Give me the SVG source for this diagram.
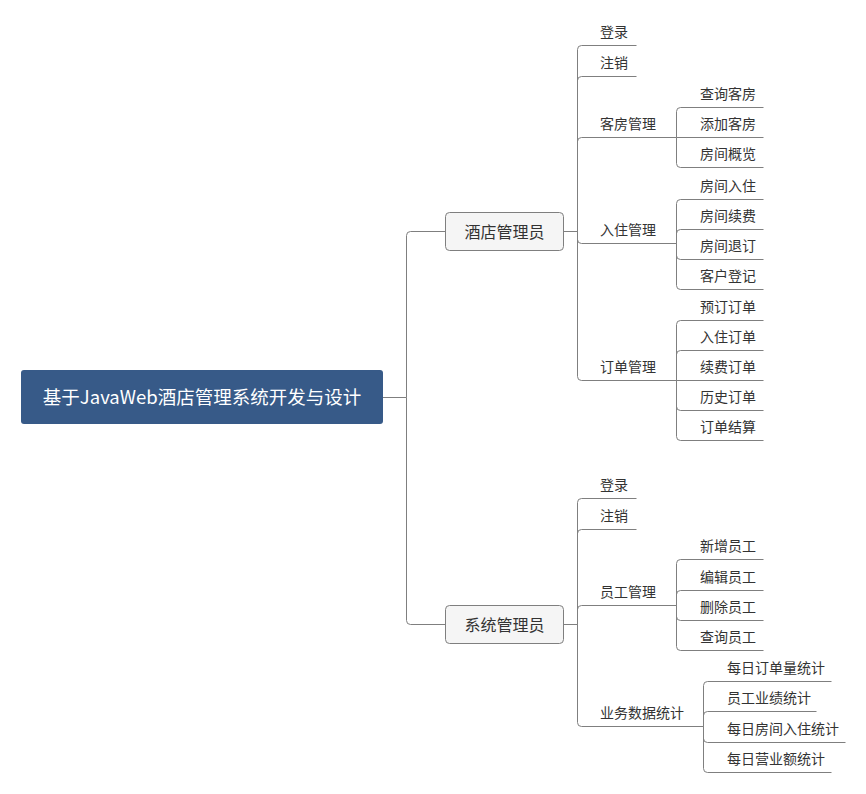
<svg xmlns="http://www.w3.org/2000/svg" width="866" height="794" viewBox="0 0 866 794">
<style>
.c{fill:none;stroke:#7f7f7f;stroke-width:1}
.t{font-family:"Noto Sans CJK SC","Liberation Sans",sans-serif;font-size:14px;fill:#333}
.n1 rect{fill:#f5f5f5;stroke:#7f7f7f;stroke-width:1}
.n1 text{font-family:"Noto Sans CJK SC","Liberation Sans",sans-serif;font-size:16px;fill:#333;text-anchor:middle}
</style>
<rect width="866" height="794" fill="#fff"/>
<g id="connectors">
<path class="c" d="M383 397.5H406.5"/>
<path class="c" d="M406.5 397.5V235.5Q406.5 231.5 410.5 231.5H445.5"/>
<path class="c" d="M406.5 397.5V620.5Q406.5 624.5 410.5 624.5H445.5"/>
<path class="c" d="M563.5 231.5H577.5"/>
<path class="c" d="M577.5 231.5V49.5Q577.5 45.5 581.5 45.5H636.5"/>
<path class="c" d="M577.5 231.5V80.5Q577.5 76.5 581.5 76.5H636.5"/>
<path class="c" d="M577.5 231.5V141.5Q577.5 137.5 581.5 137.5H676.5"/>
<path class="c" d="M577.5 231.5V239.5Q577.5 243.5 581.5 243.5H676.5"/>
<path class="c" d="M577.5 231.5V376.5Q577.5 380.5 581.5 380.5H676.5"/>
<path class="c" d="M676.5 137.5V111.5Q676.5 107.5 680.5 107.5H763.5"/>
<path class="c" d="M676.5 137.5H763.5"/>
<path class="c" d="M676.5 137.5V163.5Q676.5 167.5 680.5 167.5H763.5"/>
<path class="c" d="M676.5 243.5V203.5Q676.5 199.5 680.5 199.5H763.5"/>
<path class="c" d="M676.5 243.5V233.5Q676.5 229.5 680.5 229.5H763.5"/>
<path class="c" d="M676.5 243.5V255.5Q676.5 259.5 680.5 259.5H763.5"/>
<path class="c" d="M676.5 243.5V285.5Q676.5 289.5 680.5 289.5H763.5"/>
<path class="c" d="M676.5 380.5V324.5Q676.5 320.5 680.5 320.5H763.5"/>
<path class="c" d="M676.5 380.5V354.5Q676.5 350.5 680.5 350.5H763.5"/>
<path class="c" d="M676.5 380.5H763.5"/>
<path class="c" d="M676.5 380.5V406.5Q676.5 410.5 680.5 410.5H763.5"/>
<path class="c" d="M676.5 380.5V436.5Q676.5 440.5 680.5 440.5H763.5"/>
<path class="c" d="M563.5 624.5H577.5"/>
<path class="c" d="M577.5 624.5V502.5Q577.5 498.5 581.5 498.5H636.5"/>
<path class="c" d="M577.5 624.5V533.5Q577.5 529.5 581.5 529.5H636.5"/>
<path class="c" d="M577.5 624.5V609.5Q577.5 605.5 581.5 605.5H676.5"/>
<path class="c" d="M577.5 624.5V722.5Q577.5 726.5 581.5 726.5H703.5"/>
<path class="c" d="M676.5 605.5V563.5Q676.5 559.5 680.5 559.5H763.5"/>
<path class="c" d="M676.5 605.5V594.5Q676.5 590.5 680.5 590.5H763.5"/>
<path class="c" d="M676.5 605.5V616.5Q676.5 620.5 680.5 620.5H763.5"/>
<path class="c" d="M676.5 605.5V646.5Q676.5 650.5 680.5 650.5H763.5"/>
<path class="c" d="M703.5 726.5V685.5Q703.5 681.5 707.5 681.5H831.5"/>
<path class="c" d="M703.5 726.5V715.5Q703.5 711.5 707.5 711.5H816.5"/>
<path class="c" d="M703.5 726.5V738.5Q703.5 742.5 707.5 742.5H845.5"/>
<path class="c" d="M703.5 726.5V768.5Q703.5 772.5 707.5 772.5H831.5"/>
</g>
<g id="root">
<rect x="21" y="370" width="362" height="54" rx="3" fill="#375a88"/>
<text x="202" y="403.5" font-family="Noto Sans CJK SC,Liberation Sans,sans-serif" font-size="18.5" fill="#fff" text-anchor="middle">基于JavaWeb酒店管理系统开发与设计</text>
</g>
<g id="hotel-admin" class="n1"><rect x="445.5" y="212.5" width="118" height="38" rx="4"/><text x="504.5" y="237.5">酒店管理员</text></g>
<g id="sys-admin" class="n1"><rect x="445.5" y="605.5" width="118" height="38" rx="4"/><text x="504.5" y="630.5">系统管理员</text></g>
<g id="h-login"><text class="t" x="600" y="37">登录</text></g>
<g id="h-logout"><text class="t" x="600" y="68">注销</text></g>
<g id="h-room"><text class="t" x="600" y="129">客房管理</text></g>
<g id="h-room-1"><text class="t" x="700" y="99">查询客房</text></g>
<g id="h-room-2"><text class="t" x="700" y="129">添加客房</text></g>
<g id="h-room-3"><text class="t" x="700" y="159">房间概览</text></g>
<g id="h-checkin"><text class="t" x="600" y="235">入住管理</text></g>
<g id="h-checkin-1"><text class="t" x="700" y="191">房间入住</text></g>
<g id="h-checkin-2"><text class="t" x="700" y="221">房间续费</text></g>
<g id="h-checkin-3"><text class="t" x="700" y="251">房间退订</text></g>
<g id="h-checkin-4"><text class="t" x="700" y="281">客户登记</text></g>
<g id="h-order"><text class="t" x="600" y="372">订单管理</text></g>
<g id="h-order-1"><text class="t" x="700" y="312">预订订单</text></g>
<g id="h-order-2"><text class="t" x="700" y="342">入住订单</text></g>
<g id="h-order-3"><text class="t" x="700" y="372">续费订单</text></g>
<g id="h-order-4"><text class="t" x="700" y="402">历史订单</text></g>
<g id="h-order-5"><text class="t" x="700" y="432">订单结算</text></g>
<g id="s-login"><text class="t" x="600" y="490">登录</text></g>
<g id="s-logout"><text class="t" x="600" y="521">注销</text></g>
<g id="s-staff"><text class="t" x="600" y="597">员工管理</text></g>
<g id="s-staff-1"><text class="t" x="700" y="551">新增员工</text></g>
<g id="s-staff-2"><text class="t" x="700" y="582">编辑员工</text></g>
<g id="s-staff-3"><text class="t" x="700" y="612">删除员工</text></g>
<g id="s-staff-4"><text class="t" x="700" y="642">查询员工</text></g>
<g id="s-stats"><text class="t" x="600" y="718">业务数据统计</text></g>
<g id="s-stats-1"><text class="t" x="727" y="673">每日订单量统计</text></g>
<g id="s-stats-2"><text class="t" x="727" y="703">员工业绩统计</text></g>
<g id="s-stats-3"><text class="t" x="727" y="734">每日房间入住统计</text></g>
<g id="s-stats-4"><text class="t" x="727" y="764">每日营业额统计</text></g>
</svg>
